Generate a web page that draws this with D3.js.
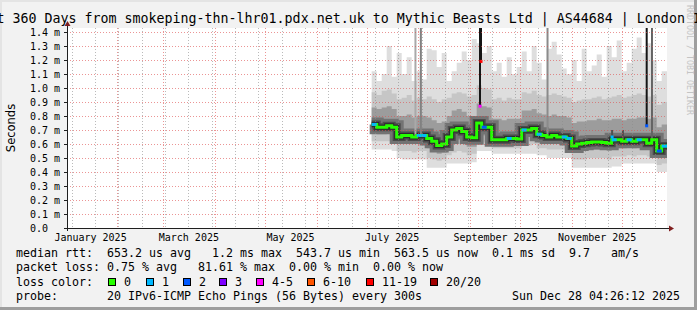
<!DOCTYPE html>
<meta charset="utf-8">
<style>
  body { margin: 0; background: #f2f2f2; }
  svg text { font-family: "DejaVu Sans Mono", monospace; fill: #000; }
  .grid-minor { stroke: rgba(140, 140, 140, 0.6); stroke-dasharray: 1, 2; shape-rendering: crispEdges; }
  .grid-major { stroke: rgba(222, 79, 79, 0.6); stroke-dasharray: 1, 2; shape-rendering: crispEdges; }
  .legend text { font-size: 11.63px; white-space: pre; }
  .yaxis text { white-space: pre; }
</style>

<body>
  <svg id="chart"></svg>

  <script src="https://d3js.org/d3.v7.min.js"></script>
  <script>
    var width = 697,
      height = 310;

    // ---- data ----
    var endTime = new Date(2025, 11, 28, 4, 26, 12);
    var rangeDays = 360;

    var stepDates = ["2025-07-04", "2025-07-07", "2025-07-10", "2025-07-13", "2025-07-16", "2025-07-19",
      "2025-07-22", "2025-07-25", "2025-07-28", "2025-07-31", "2025-08-03", "2025-08-06", "2025-08-09",
      "2025-08-12", "2025-08-15", "2025-08-18", "2025-08-21", "2025-08-24", "2025-08-27", "2025-08-30",
      "2025-09-02", "2025-09-05", "2025-09-08", "2025-09-11", "2025-09-14", "2025-09-17", "2025-09-20",
      "2025-09-23", "2025-09-26", "2025-09-29", "2025-10-02", "2025-10-05", "2025-10-08", "2025-10-11",
      "2025-10-14", "2025-10-17", "2025-10-20", "2025-10-23", "2025-10-26", "2025-10-29", "2025-11-01",
      "2025-11-04", "2025-11-07", "2025-11-10", "2025-11-13", "2025-11-16", "2025-11-19", "2025-11-22",
      "2025-11-25", "2025-11-28", "2025-12-01", "2025-12-04", "2025-12-07", "2025-12-10", "2025-12-13",
      "2025-12-16", "2025-12-19", "2025-12-22", "2025-12-25"];

    // median rtt, ms
    var median = [0.74, 0.72, 0.72, 0.73, 0.72, 0.65, 0.66, 0.66, 0.65, 0.66, 0.66, 0.64, 0.62, 0.59, 0.60,
      0.65, 0.70, 0.71, 0.69, 0.65, 0.645, 0.75, 0.72, 0.72, 0.63, 0.63, 0.63, 0.64, 0.64, 0.635, 0.70, 0.70,
      0.71, 0.67, 0.66, 0.65, 0.66, 0.65, 0.65, 0.64, 0.585, 0.60, 0.605, 0.61, 0.615, 0.615, 0.61, 0.605,
      0.63, 0.63, 0.62, 0.63, 0.62, 0.63, 0.63, 0.605, 0.63, 0.55, 0.585];

    // lost pings out of 20
    var loss = [1, 0, 0, 0, 0, 0, 0, 0, 0, 1, 1, 0, 0, 0, 0, 0, 0, 0, 0, 0, 0, 0, 2, 0, 0, 0, 0, 1, 0, 0, 1, 0,
      0, 1, 0, 0, 0, 0, 1, 1, 0, 0, 0, 0, 0, 0, 0, 0, 1, 0, 0, 1, 0, 1, 0, 0, 0, 2, 1];

    // smoke: spread of the 20 pings, ms
    var smokeMin = [0.56, 0.56, 0.56, 0.56, 0.55, 0.50, 0.49, 0.49, 0.49, 0.49, 0.49, 0.43, 0.43, 0.43, 0.43,
      0.46, 0.46, 0.46, 0.46, 0.46, 0.47, 0.55, 0.55, 0.55, 0.53, 0.53, 0.53, 0.53, 0.53, 0.53, 0.53, 0.53,
      0.53, 0.52, 0.52, 0.50, 0.50, 0.50, 0.50, 0.50, 0.43, 0.43, 0.43, 0.43, 0.43, 0.43, 0.43, 0.43, 0.44,
      0.44, 0.46, 0.46, 0.46, 0.46, 0.46, 0.46, 0.46, 0.40, 0.40];
    var smokeLow = [0.62, 0.62, 0.62, 0.62, 0.61, 0.55, 0.55, 0.55, 0.54, 0.55, 0.55, 0.50, 0.49, 0.48, 0.49,
      0.52, 0.54, 0.55, 0.54, 0.52, 0.53, 0.62, 0.61, 0.61, 0.57, 0.57, 0.57, 0.57, 0.57, 0.57, 0.59, 0.59,
      0.60, 0.57, 0.57, 0.56, 0.56, 0.56, 0.56, 0.55, 0.49, 0.49, 0.49, 0.50, 0.50, 0.50, 0.50, 0.49, 0.51,
      0.51, 0.51, 0.52, 0.51, 0.52, 0.52, 0.51, 0.52, 0.45, 0.46];
    var smokeQ25 = [0.68, 0.67, 0.67, 0.68, 0.67, 0.60, 0.60, 0.60, 0.60, 0.61, 0.61, 0.57, 0.55, 0.53, 0.54,
      0.58, 0.62, 0.63, 0.62, 0.58, 0.58, 0.68, 0.66, 0.66, 0.60, 0.60, 0.60, 0.60, 0.60, 0.60, 0.65, 0.65,
      0.66, 0.62, 0.62, 0.61, 0.61, 0.61, 0.61, 0.60, 0.54, 0.55, 0.55, 0.56, 0.56, 0.56, 0.56, 0.55, 0.57,
      0.57, 0.57, 0.58, 0.57, 0.58, 0.58, 0.56, 0.58, 0.50, 0.52];
    var smokeQ75 = [0.86, 0.85, 0.86, 0.87, 0.85, 0.80, 0.80, 0.81, 0.79, 0.80, 0.80, 0.79, 0.77, 0.75, 0.76,
      0.80, 0.84, 0.85, 0.83, 0.80, 0.80, 0.89, 0.87, 0.86, 0.78, 0.78, 0.77, 0.78, 0.78, 0.78, 0.84, 0.84,
      0.85, 0.82, 0.81, 0.80, 0.81, 0.80, 0.80, 0.79, 0.75, 0.76, 0.76, 0.77, 0.77, 0.78, 0.77, 0.77, 0.78,
      0.78, 0.77, 0.78, 0.78, 0.79, 0.79, 0.78, 0.79, 0.72, 0.74];
    var smokeHigh = [0.97, 0.95, 0.98, 0.99, 0.96, 0.92, 0.93, 0.95, 0.91, 0.93, 0.92, 0.94, 0.92, 0.90, 0.92,
      0.93, 0.96, 0.97, 0.96, 0.94, 0.95, 1.02, 1.00, 0.99, 0.92, 0.93, 0.91, 0.93, 0.92, 0.92, 0.97, 0.96,
      0.98, 0.95, 0.94, 0.95, 0.96, 0.95, 0.94, 0.93, 0.90, 0.91, 0.92, 0.92, 0.93, 0.94, 0.92, 0.93, 0.94,
      0.95, 0.93, 0.94, 0.95, 0.96, 0.95, 0.94, 0.95, 0.88, 0.90];
    var smokeMax = [1.12, 1.05, 1.10, 1.30, 1.08, 1.25, 1.10, 1.22, 1.05, 1.12, 1.06, 1.28, 1.27, 1.15, 1.25,
      1.05, 1.12, 1.18, 1.26, 1.20, 1.35, 1.32, 1.25, 1.30, 1.12, 1.18, 1.08, 1.22, 1.10, 1.15, 1.26, 1.12,
      1.30, 1.18, 1.06, 1.28, 1.33, 1.24, 1.14, 1.10, 1.20, 1.05, 1.28, 1.12, 1.16, 1.24, 1.08, 1.30, 1.22,
      1.34, 1.12, 1.18, 1.28, 1.36, 1.25, 1.32, 1.20, 1.05, 1.12];

    // short bursts: single columns where many pings ran high
    var spikeDates = ["2025-07-30 06:00", "2025-08-02 12:00", "2025-09-07 00:00", "2025-09-07 14:00",
      "2025-10-17 12:00", "2025-11-25 06:00", "2025-12-01 18:00", "2025-12-16 00:00", "2025-12-19 04:00"];
    var spikeMedian = [0.66, 0.66, 0.87, 1.19, 0.66, 0.65, 0.63, 0.73, 0.63];
    var spikeTop = [1.5, 1.5, 1.5, 1.5, 1.5, 0.70, 0.70, 1.5, 1.5];
    var spikeHighPings = [5, 9, 20, 20, 8, 14, 14, 20, 12];
    var spikeLoss = [0, 0, 4, 15, 0, 1, 0, 2, 0];

    var yTicks = [0, 0.1, 0.2, 0.3, 0.4, 0.5, 0.6, 0.7, 0.8, 0.9, 1.0, 1.1, 1.2, 1.3, 1.4];
    var monthLabels = ["January 2025", "March 2025", "May 2025", "July 2025", "September 2025", "November 2025"];
    var monthLabelStarts = ["2025-01-01", "2025-03-01", "2025-05-01", "2025-07-01", "2025-09-01", "2025-11-01"];

    var lossClasses = ["0", "1", "2", "3", "4-5", "6-10", "11-19", "20/20"];
    var lossColors = ["#26ff00", "#00b8ff", "#0059ff", "#7e00ff", "#ff00ff", "#ff5500", "#ff0000", "#a10000"];

    var legendLines = [
      "median rtt:  653.2 us avg   1.2 ms max  543.7 us min  563.5 us now  0.1 ms sd  9.7   am/s",
      "packet loss: 0.75 % avg   81.61 % max  0.00 % min  0.00 % now"
    ];
    var lossBoxX = [108, 146, 183, 219, 256, 307, 366, 430];

    // ---- scales ----
    var parseDay = d3.timeParse("%Y-%m-%d");
    var parseHour = d3.timeParse("%Y-%m-%d %H:%M");
    var startTime = d3.timeDay.offset(endTime, -rangeDays);

    var x = d3.scaleTime()
      .domain([startTime, endTime])
      .range([67, 667]);

    var y = d3.scaleLinear()
      .domain([0, 200 / 140])
      .range([228, 28]);

    var lossColor = function (n) {
      if (n <= 0) return lossColors[0];
      if (n <= 3) return lossColors[n];
      if (n <= 5) return lossColors[4];
      if (n <= 10) return lossColors[5];
      if (n <= 19) return lossColors[6];
      return lossColors[7];
    };

    var spikeShade = d3.scaleLinear()
      .domain([1, 20])
      .range(["#d0d0d0", "#151515"]);

    var svg = d3.select("#chart")
      .attr("width", width)
      .attr("height", height);

    svg.append("rect")
      .attr("width", width)
      .attr("height", height)
      .attr("fill", "#f2f2f2");

    // 3d frame
    svg.append("rect").attr("x", 0).attr("y", 0).attr("width", width).attr("height", 2).attr("fill", "#e4e4e4");
    svg.append("rect").attr("x", 0).attr("y", 0).attr("width", 2).attr("height", height).attr("fill", "#e4e4e4");
    svg.append("rect").attr("x", 0).attr("y", height - 3).attr("width", width).attr("height", 3).attr("fill", "#9e9e9e");
    svg.append("rect").attr("x", width - 3).attr("y", 0).attr("width", 3).attr("height", height).attr("fill", "#9e9e9e");

    svg.append("defs").append("clipPath")
      .attr("id", "plot-clip")
      .append("rect")
      .attr("x", 67)
      .attr("y", 28)
      .attr("width", 600)
      .attr("height", 200);

    svg.append("rect")
      .attr("x", 67)
      .attr("y", 28)
      .attr("width", 600)
      .attr("height", 200)
      .attr("fill", "#fff");

    var plot = svg.append("g").attr("clip-path", "url(#plot-clip)");

    var steps = stepDates.map(function (s, i) {
      return {
        t: parseDay(s),
        med: median[i],
        loss: loss[i],
        min: smokeMin[i],
        low: smokeLow[i],
        q25: smokeQ25[i],
        q75: smokeQ75[i],
        high: smokeHigh[i],
        max: smokeMax[i]
      };
    });
    // last step runs up to the end of the graph
    var drawSteps = steps.concat([Object.assign({}, steps[steps.length - 1], { t: endTime })]);

    var bands = [["min", "max", "#dedede"], ["low", "high", "#c6c6c6"], ["q25", "q75", "#9c9c9c"]];

    bands.forEach(function (b) {
      plot.append("path")
        .datum(drawSteps)
        .attr("fill", b[2])
        .attr("d", d3.area()
          .curve(d3.curveStepAfter)
          .x(function (d) { return x(d.t); })
          .y0(function (d) { return y(d[b[0]]); })
          .y1(function (d) { return y(d[b[1]]); }));
    });

    var medLine = d3.line()
      .curve(d3.curveStepAfter)
      .x(function (d) { return x(d.t); })
      .y(function (d) { return y(d.med); });

    // dark core of the smoke around the median
    plot.append("path")
      .datum(drawSteps)
      .attr("fill", "none")
      .attr("stroke", "#737373")
      .attr("stroke-width", 14)
      .attr("d", medLine);
    plot.append("path")
      .datum(drawSteps)
      .attr("fill", "none")
      .attr("stroke", "#4b4b4b")
      .attr("stroke-width", 8)
      .attr("d", medLine);
    plot.append("path")
      .datum(drawSteps)
      .attr("fill", "none")
      .attr("stroke", "#2a2a2a")
      .attr("stroke-width", 5)
      .attr("d", medLine);

    // spikes
    var spikes = spikeDates.map(function (s, i) {
      return { t: parseHour(s), med: spikeMedian[i], top: spikeTop[i], n: spikeHighPings[i], loss: spikeLoss[i] };
    });

    plot.selectAll(".spike")
      .data(spikes)
      .enter().append("line")
      .attr("class", "spike")
      .attr("x1", function (d) { return x(d.t); })
      .attr("x2", function (d) { return x(d.t); })
      .attr("y1", function (d) { return y(d.med); })
      .attr("y2", function (d) { return y(d.top); })
      .attr("stroke", function (d) { return spikeShade(d.n); })
      .attr("stroke-width", 2);

    // grid (rrdtool paints it over the data)
    var gridG = svg.append("g");
    gridG.selectAll(".hgrid")
      .data(yTicks.slice(1))
      .enter().append("line")
      .attr("class", "grid-major")
      .attr("x1", 67).attr("x2", 667)
      .attr("y1", function (d) { return Math.round(y(d)) + 0.5; })
      .attr("y2", function (d) { return Math.round(y(d)) + 0.5; });

    gridG.selectAll(".vminor")
      .data(d3.timeSunday.range(startTime, endTime, 2))
      .enter().append("line")
      .attr("class", "grid-minor")
      .attr("y1", 28).attr("y2", 228)
      .attr("x1", function (d) { return Math.round(x(d)) + 0.5; })
      .attr("x2", function (d) { return Math.round(x(d)) + 0.5; });

    gridG.selectAll(".vmajor")
      .data(d3.timeMonth.range(startTime, endTime))
      .enter().append("line")
      .attr("class", "grid-major")
      .attr("y1", 28).attr("y2", 228)
      .attr("x1", function (d) { return Math.round(x(d)) + 0.5; })
      .attr("x2", function (d) { return Math.round(x(d)) + 0.5; });

    // median line coloured by loss
    plot.append("path")
      .datum(drawSteps)
      .attr("fill", "none")
      .attr("stroke", lossColors[0])
      .attr("stroke-width", 3)
      .attr("d", medLine);

    plot.selectAll(".lossseg")
      .data(d3.range(steps.length).filter(function (i) { return steps[i].loss > 0; }))
      .enter().append("line")
      .attr("x1", function (i) { return x(drawSteps[i].t); })
      .attr("x2", function (i) { return x(drawSteps[i + 1].t); })
      .attr("y1", function (i) { return y(drawSteps[i].med); })
      .attr("y2", function (i) { return y(drawSteps[i].med); })
      .attr("stroke", function (i) { return lossColor(drawSteps[i].loss); })
      .attr("stroke-width", 3);

    plot.selectAll(".spikemed")
      .data(spikes.filter(function (d) { return d.loss > 0; }))
      .enter().append("rect")
      .attr("x", function (d) { return x(d.t) - 1.5; })
      .attr("y", function (d) { return y(d.med) - 1.5; })
      .attr("width", 3)
      .attr("height", 3)
      .attr("fill", function (d) { return lossColor(d.loss); });

    // axes
    var yAxis = svg.append("g")
      .attr("class", "yaxis")
      .attr("transform", "translate(67,0)")
      .call(d3.axisLeft(y)
        .tickValues(yTicks)
        .tickSize(3)
        .tickPadding(4)
        .tickFormat(function (d) { return d === 0 ? "0.0  " : d3.format(".1f")(d) + " m"; }));
    yAxis.select(".domain").remove();
    yAxis.selectAll("text")
      .attr("font-family", "DejaVu Sans Mono")
      .attr("font-size", 10);
    yAxis.selectAll(".tick line").attr("stroke", "#1f1f1f");

    var xAxis = svg.append("g")
      .attr("transform", "translate(0,228)")
      .call(d3.axisBottom(x)
        .tickValues(monthLabelStarts.map(function (s) { return d3.timeDay.offset(parseDay(s), 15); }))
        .tickSize(0)
        .tickPadding(6)
        .tickFormat(function (d, i) { return monthLabels[i]; }));
    xAxis.select(".domain").remove();
    xAxis.selectAll("text")
      .attr("font-family", "DejaVu Sans Mono")
      .attr("font-size", 10);

    svg.append("line")
      .attr("x1", 64).attr("x2", 669)
      .attr("y1", 228.5).attr("y2", 228.5)
      .attr("stroke", "#1f1f1f");
    svg.append("line")
      .attr("x1", 67.5).attr("x2", 67.5)
      .attr("y1", 231).attr("y2", 25)
      .attr("stroke", "#1f1f1f");
    svg.append("path")
      .attr("d", "M669,225.5L674,228.5L669,231.5Z")
      .attr("fill", "#801f1f");
    svg.append("path")
      .attr("d", "M64.5,26L67.5,21L70.5,26Z")
      .attr("fill", "#801f1f");

    // texts
    svg.append("text")
      .attr("x", -27.6)
      .attr("y", 23)
      .attr("font-size", 13.3)
      .text("Last 360 Days from smokeping-thn-lhr01.pdx.net.uk to Mythic Beasts Ltd | AS44684 | London IPv6");

    svg.append("text")
      .attr("transform", "translate(15,128) rotate(-90)")
      .attr("text-anchor", "middle")
      .style("font-family", "DejaVu Sans")
      .attr("font-size", 11.5)
      .text("Seconds");

    svg.append("text")
      .attr("transform", "translate(687,5) rotate(90)")
      .attr("font-size", 8.3)
      .style("fill", "#c4c4c4")
      .text("RRDTOOL / TOBI OETIKER");

    var legend = svg.append("g").attr("class", "legend");

    legend.selectAll(".line")
      .data(legendLines)
      .enter().append("text")
      .attr("x", 16)
      .attr("y", function (d, i) { return 257 + i * 14.4; })
      .text(function (d) { return d; });

    legend.append("text").attr("x", 16).attr("y", 285.7).text("loss color:");
    legend.selectAll(".lbox")
      .data(lossClasses)
      .enter().append("rect")
      .attr("x", function (d, i) { return lossBoxX[i] + 0.5; })
      .attr("y", 278.5)
      .attr("width", 7)
      .attr("height", 7)
      .attr("fill", function (d, i) { return lossColors[i]; })
      .attr("stroke", "#000");
    legend.selectAll(".ltext")
      .data(lossClasses)
      .enter().append("text")
      .attr("x", function (d, i) { return lossBoxX[i] + 16; })
      .attr("y", 285.7)
      .text(function (d) { return d; });

    legend.append("text").attr("x", 16).attr("y", 300).text("probe:");
    legend.append("text").attr("x", 107).attr("y", 300).text("20 IPv6-ICMP Echo Pings (56 Bytes) every 300s");
    legend.append("text").attr("x", 680).attr("y", 300).attr("text-anchor", "end").text("Sun Dec 28 04:26:12 2025");
  </script>
</body>
